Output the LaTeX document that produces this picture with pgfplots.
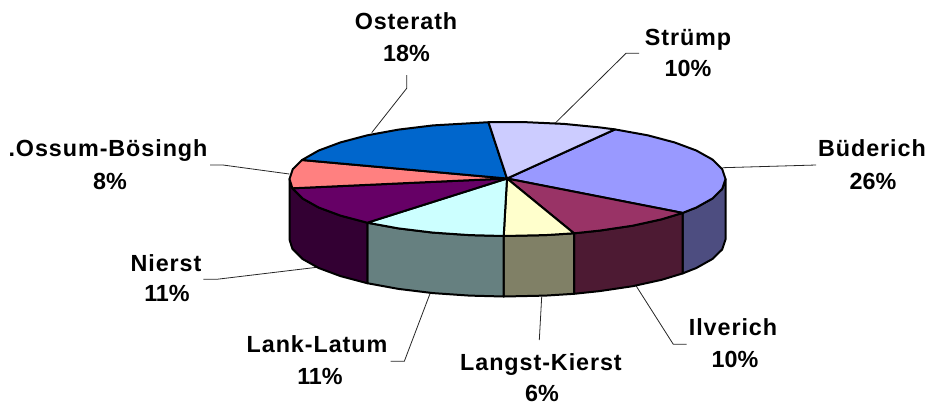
\documentclass[border=0pt]{standalone}
\usepackage{fontspec}
\setmainfont{Liberation Sans}
\newfontfamily\lab[LetterSpace=4]{Liberation Sans}
\usepackage{pgfplots}
\pgfplotsset{compat=1.18}
\definecolor{cStr}{HTML}{CCCCFF}
\definecolor{cBue}{HTML}{9999FF}
\definecolor{cIlv}{HTML}{993366}
\definecolor{cLan}{HTML}{FFFFCC}
\definecolor{cLat}{HTML}{CCFFFF}
\definecolor{cNie}{HTML}{660066}
\definecolor{cOss}{HTML}{FF8080}
\definecolor{cOst}{HTML}{0066CC}
\definecolor{dBue}{HTML}{4D4D80}
\definecolor{dIlv}{HTML}{4D1A33}
\definecolor{dLan}{HTML}{808066}
\definecolor{dLat}{HTML}{668080}
\definecolor{dNie}{HTML}{330033}
\newcommand{\nm}[3]{\node[font=\fontsize{17.5}{20}\selectfont\lab\bfseries,text height=12.6pt,text depth=0pt,inner sep=0pt,anchor=center] at (axis cs:#1,#2) {#3};}
\newcommand{\pc}[3]{\node[font=\fontsize{17.5}{20}\selectfont\bfseries,text height=12.6pt,text depth=0pt,inner sep=0pt,anchor=center] at (axis cs:#1,#2) {#3\%};}
\begin{document}
\begin{tikzpicture}
\begin{axis}[
  scale only axis, width=696pt, height=303.75pt,
  xmin=0, xmax=928, ymin=0, ymax=405, y dir=reverse,
  hide axis, clip=false,
  slice/.style={draw=black, line width=1.5pt, line join=round},
  lead/.style={draw=black!85, line width=0.6pt, no marks},
]
% invisible frame, fixes the page to the full canvas
\addplot[draw=none, no marks, forget plot] coordinates {(0,0) (928,405)};
% leader lines
\addplot[lead] coordinates {(406.7,75) (406.7,88.3) (371.7,132.7)};
\addplot[lead] coordinates {(639,53.3) (626,53.3) (555,123.3)};
\addplot[lead] coordinates {(816,165) (722.7,167.7)};
\addplot[lead] coordinates {(210,165) (223,165) (289.3,174)};
\addplot[lead] coordinates {(203.3,279.3) (216.7,279.3) (316.7,267.3)};
\addplot[lead] coordinates {(390.7,361.3) (404.3,361.3) (431,291)};
\addplot[lead] coordinates {(539.3,340) (541.7,296.7)};
\addplot[lead] coordinates {(686.7,344.3) (673.3,344.3) (636,285.7)};
% side walls
\addplot[slice, fill=dBue] coordinates {(725.5,179) (722.2,188.9) (712.4,198.5) (696.3,207.5) (682.7,212.9) (682.7,273.4) (696.3,268) (712.4,259) (722.2,249.4) (725.5,239.5)} -- cycle;
\addplot[slice, fill=dIlv] coordinates {(682.7,212.9) (661.6,219.3) (632.6,225.7) (599.6,230.6) (574,233.3) (574,293.8) (599.6,291.1) (632.6,286.2) (661.6,279.8) (682.7,273.4)} -- cycle;
\addplot[slice, fill=dLan] coordinates {(574,233.3) (545.4,235.1) (503.7,236) (503.7,296.5) (545.4,295.6) (574,293.8)} -- cycle;
\addplot[slice, fill=dLat] coordinates {(503.7,236) (469.6,235.1) (433,232.6) (398.5,228.4) (367.3,222.7) (367.3,283.2) (398.5,288.9) (433,293.1) (469.6,295.6) (503.7,296.5)} -- cycle;
\addplot[slice, fill=dNie] coordinates {(367.3,222.7) (340.5,215.6) (318.7,207.5) (302.6,198.5) (292.4,188.3) (289.5,179) (289.5,239.5) (292.4,248.8) (302.6,259) (318.7,268) (340.5,276.1) (367.3,283.2)} -- cycle;
% top slices
\addplot[slice, fill=cBue] coordinates {(507,178.5) (615,129.4) (647.7,135.3) (674.5,142.4) (696.3,150.5) (712.4,159.5) (722.2,169.1) (725.5,179) (722.2,188.9) (712.4,198.5) (696.3,207.5) (682.7,212.9)} -- cycle;
\addplot[slice, fill=cIlv] coordinates {(507,178.5) (682.7,212.9) (661.6,219.3) (632.6,225.7) (599.6,230.6) (574,233.3)} -- cycle;
\addplot[slice, fill=cLan] coordinates {(507,178.5) (574,233.3) (545.4,235.1) (503.7,236)} -- cycle;
\addplot[slice, fill=cLat] coordinates {(507,178.5) (503.7,236) (469.6,235.1) (433,232.6) (398.5,228.4) (367.3,222.7)} -- cycle;
\addplot[slice, fill=cNie] coordinates {(507,178.5) (367.3,222.7) (340.5,215.6) (318.7,207.5) (302.6,198.5) (292.4,188.3)} -- cycle;
\addplot[slice, fill=cOss] coordinates {(507,178.5) (292.4,188.3) (289.5,179) (292.8,169.1) (302,160)} -- cycle;
\addplot[slice, fill=cOst] coordinates {(507,178.5) (302,160) (318.7,150.5) (340.5,142.4) (367.3,135.3) (398.5,129.6) (433,125.4) (488.5,122.2)} -- cycle;
\addplot[slice, fill=cStr] coordinates {(507,178.5) (488.5,122.2) (526.5,122.2) (564,123.9) (599.7,127.4) (615,129.4)} -- cycle;
% labels
\nm{406}{21}{Osterath}\pc{406.5}{53}{18}
\nm{688}{37}{Strümp}\pc{688}{68}{10}
\nm{872}{148}{Büderich}\pc{873}{181}{26}
\nm{108}{148}{.Ossum-Bösingh}\pc{110}{181}{8}
\nm{166}{263}{Nierst}\pc{167}{293}{11}
\nm{317}{344}{Lank-Latum}\pc{320}{376}{11}
\nm{541}{362}{Langst-Kierst}\pc{542}{393}{6}
\nm{733}{327}{Ilverich}\pc{735}{359}{10}
\end{axis}
\end{tikzpicture}
\end{document}
